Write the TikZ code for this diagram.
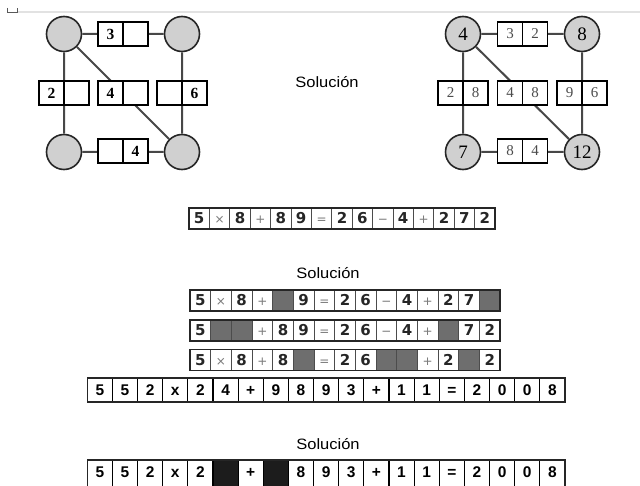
\documentclass[tikz,border=0pt]{standalone}
\usepackage{fontspec}
\setmainfont{Liberation Serif}
\newfontfamily\solfont[FakeStretch=1.1]{Liberation Sans}
\newfontfamily\arfont{Liberation Sans}
\newfontfamily\dvfont{DejaVu Sans}
\definecolor{circfill}{HTML}{D0D0D0}
\definecolor{dk}{HTML}{6E6E6E}
\definecolor{bk}{HTML}{1C1C1C}
\definecolor{opgray}{HTML}{7A7A7A}
\definecolor{topline}{HTML}{E2E2E2}
\newcommand\opT{{\mdseries\fontsize{12}{12}\selectfont\textcolor{opgray}{×}}}
\newcommand\opP{{\mdseries\fontsize{12}{12}\selectfont\textcolor{opgray}{+}}}
\newcommand\opM{{\mdseries\fontsize{12}{12}\selectfont\textcolor{opgray}{−}}}
\newcommand\opE{{\mdseries\fontsize{12}{12}\selectfont\textcolor{opgray}{=}}}
\newcommand\cellrow[7]{%
  \foreach \t/\f [count=\i] in {#6} {
    \node[#2,minimum width=#4pt,fill=\f] (#1\i) at ({#3+(\i-0.5)*#4},#5) {\t};
  }
  \draw[frame] (#11.north west) rectangle (#1#7.south east);
}
\begin{document}
\begin{tikzpicture}[x=1pt,y=-1pt,
 circ/.style={circle,draw=black!85,line width=1.6pt,fill=circfill,minimum size=35pt,inner sep=0pt,font=\fontsize{19}{19}\selectfont},
 edgeline/.style={line width=2pt,draw=black!72},
 lbox/.style={draw=black,line width=1.6pt,fill=white,minimum width=25pt,minimum height=24pt,inner sep=0pt,outer sep=0pt,font=\fontsize{15.5}{15.5}\selectfont\bfseries},
 rbox/.style={lbox,font=\fontsize{15}{15}\selectfont,text=black!70},
 scell/.style={draw=black!70,line width=0.8pt,minimum height=21pt,inner sep=0pt,outer sep=0pt,text height=11pt,text depth=0pt,font=\dvfont\bfseries\fontsize{15}{15}\selectfont,text=black!85},
 lcell/.style={draw=black,line width=1.2pt,minimum height=24pt,inner sep=0pt,outer sep=0pt,text height=11pt,text depth=0pt,font=\arfont\bfseries\fontsize{15.5}{15.5}\selectfont},
 lcellcut/.style={lcell,minimum height=30pt,text depth=6pt},
 frame/.style={draw=black!85,line width=1.3pt},
 sol/.style={font=\solfont\fontsize{15}{15}\selectfont,anchor=base,inner sep=0pt}
]
\useasboundingbox (0,0) rectangle (640,486);
\clip (0,0) rectangle (640,486);
% top strip
\draw[topline,line width=2pt] (18,12) -- (640,12);
\draw[black!65,line width=1pt] (7.5,8) -- (7.5,12.5) -- (17.5,12.5) -- (17.5,8);
% left graph
\node[circ] (L1) at (64,34) {};
\node[circ] (L2) at (182,34) {};
\node[circ] (L3) at (64,152) {};
\node[circ] (L4) at (182,152) {};
\draw[edgeline] (L1) -- (L2) (L1) -- (L3) (L2) -- (L4) (L3) -- (L4) (L1) -- (L4);
\node[lbox] (LTa) at (110.5,34) {3}; \node[lbox] (LTb) at (135.5,34) {};
\node[lbox] (LLa) at (51.5,93) {2}; \node[lbox] (LLb) at (76.5,93) {};
\node[lbox] (LMa) at (110.5,93) {4}; \node[lbox] (LMb) at (135.5,93) {};
\node[lbox] (LRa) at (169.5,93) {}; \node[lbox] (LRb) at (194.5,93) {6};
\node[lbox] (LBa) at (110.5,151) {}; \node[lbox] (LBb) at (135.5,151) {4};
% right graph
\node[circ] (R1) at (463,34) {4};
\node[circ] (R2) at (582,34) {8};
\node[circ] (R3) at (463,152) {7};
\node[circ] (R4) at (582,152) {12};
\draw[edgeline] (R1) -- (R2) (R1) -- (R3) (R2) -- (R4) (R3) -- (R4) (R1) -- (R4);
\node[rbox] (RTa) at (510,34) {3}; \node[rbox] (RTb) at (535,34) {2};
\node[rbox] (RLa) at (450.5,93) {2}; \node[rbox] (RLb) at (475.5,93) {8};
\node[rbox] (RMa) at (510,93) {4}; \node[rbox] (RMb) at (535,93) {8};
\node[rbox] (RRa) at (569.5,93) {9}; \node[rbox] (RRb) at (594.5,93) {6};
\node[rbox] (RBa) at (510,151) {8}; \node[rbox] (RBb) at (535,151) {4};
% solución labels
\node[sol] (s1) at (327,87.5) {Solución};
\node[sol] (s2) at (328,279) {Solución};
\node[sol] (s3) at (328,449) {Solución};
% equation rows
\cellrow{eq}{scell}{189}{20.4}{218.5}{5/white,\opT/white,8/white,\opP/white,8/white,9/white,\opE/white,2/white,6/white,\opM/white,4/white,\opP/white,2/white,7/white,2/white}{15}
\cellrow{ga}{scell}{190}{20.67}{300.5}{5/white,\opT/white,8/white,\opP/white,{}/dk,9/white,\opE/white,2/white,6/white,\opM/white,4/white,\opP/white,2/white,7/white,{}/dk}{15}
\cellrow{gb}{scell}{190}{20.67}{330.5}{5/white,{}/dk,{}/dk,\opP/white,8/white,9/white,\opE/white,2/white,6/white,\opM/white,4/white,\opP/white,{}/dk,7/white,2/white}{15}
\cellrow{gc}{scell}{190}{20.67}{360}{5/white,\opT/white,8/white,\opP/white,8/white,{}/dk,\opE/white,2/white,6/white,{}/dk,{}/dk,\opP/white,2/white,{}/dk,2/white}{15}
\cellrow{lr}{lcell}{87.3}{25.14}{390}{5/white,5/white,2/white,x/white,2/white,4/white,+/white,9/white,8/white,9/white,3/white,+/white,1/white,1/white,=/white,2/white,0/white,0/white,8/white}{19}
\cellrow{fr}{lcellcut}{87.3}{25.14}{475}{5/white,5/white,2/white,x/white,2/white,{}/bk,+/white,{}/bk,8/white,9/white,3/white,+/white,1/white,1/white,=/white,2/white,0/white,0/white,8/white}{19}
\end{tikzpicture}
\end{document}
